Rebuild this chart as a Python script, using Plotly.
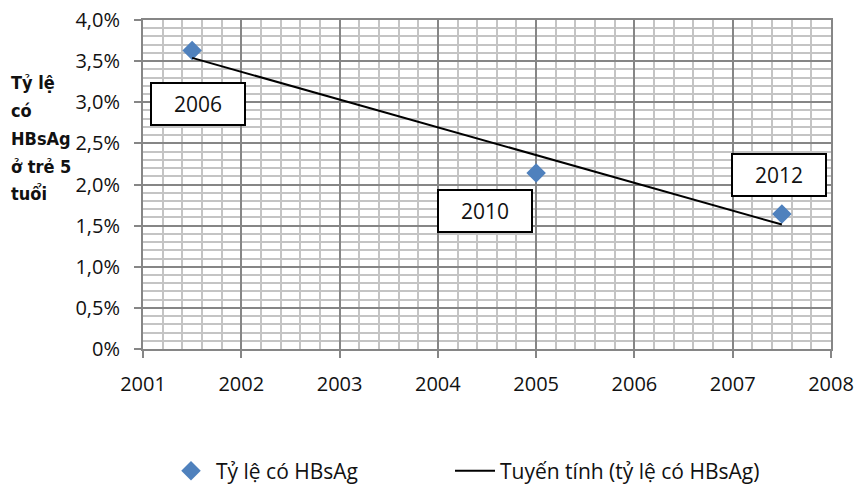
import numpy as np
import plotly.graph_objects as go

# Data
years_x = [2001.5, 2005.0, 2007.5]
rates = [0.0363, 0.0214, 0.0164]
point_labels = ["2006", "2010", "2012"]
label_pos_x = [2001.56, 2004.475, 2007.47]
label_pos_y = [0.0298, 0.0168, 0.0212]
series_name = "Tỷ lệ có HBsAg"
trend_name = "Tuyến tính (tỷ lệ có HBsAg)"
y_tickvals = [0, 0.005, 0.01, 0.015, 0.02, 0.025, 0.03, 0.035, 0.04]
y_ticktext = ["0%", "0,5%", "1,0%", "1,5%", "2,0%", "2,5%", "3,0%", "3,5%", "4,0%"]
x_tickvals = [2001, 2002, 2003, 2004, 2005, 2006, 2007, 2008]
y_title_lines = ["Tỷ lệ", "có", "HBsAg", "ở trẻ 5", "tuổi"]

# linear trend (least squares) from the data
coef = np.polyfit(years_x, rates, 1)
trend_x = [years_x[0], years_x[-1]]
trend_y = list(np.polyval(coef, trend_x))

W, H = 856, 486
ml, mr, mt, mb = 143, 25, 20, 137
pw, ph = W - ml - mr, H - mt - mb

font_main = "Open Sans"
fs = 21
fs_tick = 20
fig = go.Figure()
fig.add_trace(go.Scatter(
    x=years_x, y=rates, mode="markers", name=series_name,
    marker=dict(symbol="diamond", size=15, color="#4f81bd"),
    legend="legend",
))
fig.add_trace(go.Scatter(
    x=trend_x, y=trend_y, mode="lines", name=trend_name,
    line=dict(color="black", width=2),
    legend="legend2",
))

annotations = []
for t, ax_, ay_ in zip(point_labels, label_pos_x, label_pos_y):
    annotations.append(dict(
        x=ax_, y=ay_, xref="x", yref="y", text=t, showarrow=False,
        font=dict(family=font_main, size=fs, color="#111"),
        bgcolor="white", bordercolor="black", borderwidth=2,
        width=92, height=40, borderpad=0,
    ))

line_px = [82, 110, 138, 166, 193]
for txt, py in zip(y_title_lines, line_px):
    annotations.append(dict(
        x=(9 - ml) / pw, y=(H - mb - py) / ph, xref="paper", yref="paper",
        xanchor="left", yanchor="middle", text="<b>" + txt + "</b>",
        showarrow=False,
        font=dict(family="DejaVu Sans Condensed", size=18, color="#111"),
    ))

leg_y = (H - mb - 471) / ph
leg_common = dict(
    orientation="h", xanchor="left", y=leg_y, yanchor="middle",
    font=dict(family=font_main, size=fs, color="#111"),
    itemwidth=40, bgcolor="rgba(0,0,0,0)",
)
fig.update_layout(
    width=W, height=H,
    margin=dict(l=ml, r=mr, t=mt, b=mb, autoexpand=False),
    paper_bgcolor="white", plot_bgcolor="white",
    showlegend=True,
    legend=dict(x=(166 - ml) / pw, **leg_common),
    legend2=dict(x=(450 - ml) / pw, **leg_common),
    annotations=annotations,
    font=dict(family=font_main, size=fs, color="#111"),
)
fig.update_xaxes(
    range=[2001, 2008], tickvals=x_tickvals,
    showgrid=True, gridcolor="#868686", gridwidth=2,
    minor=dict(dtick=0.2, showgrid=True, gridcolor="#c4c4c4", gridwidth=2),
    ticks="outside", ticklen=7, tickwidth=2, tickcolor="#868686",
    showline=True, linecolor="#868686", linewidth=2, mirror=True,
    zeroline=False, ticklabelstandoff=9, ticklabeloverflow="allow",
    automargin=False,
    tickfont=dict(family=font_main, size=fs_tick, color="#111"),
)
fig.update_yaxes(
    range=[0, 0.04], tickvals=y_tickvals, ticktext=y_ticktext,
    showgrid=True, gridcolor="#868686", gridwidth=2,
    minor=dict(dtick=0.001, showgrid=True, gridcolor="#c4c4c4", gridwidth=2),
    ticks="outside", ticklen=7, tickwidth=2, tickcolor="#868686",
    showline=True, linecolor="#868686", linewidth=2, mirror=True,
    zeroline=False, ticklabelstandoff=10, automargin=False,
    tickfont=dict(family=font_main, size=fs_tick, color="#111"),
)
fig.write_html("out.html")
